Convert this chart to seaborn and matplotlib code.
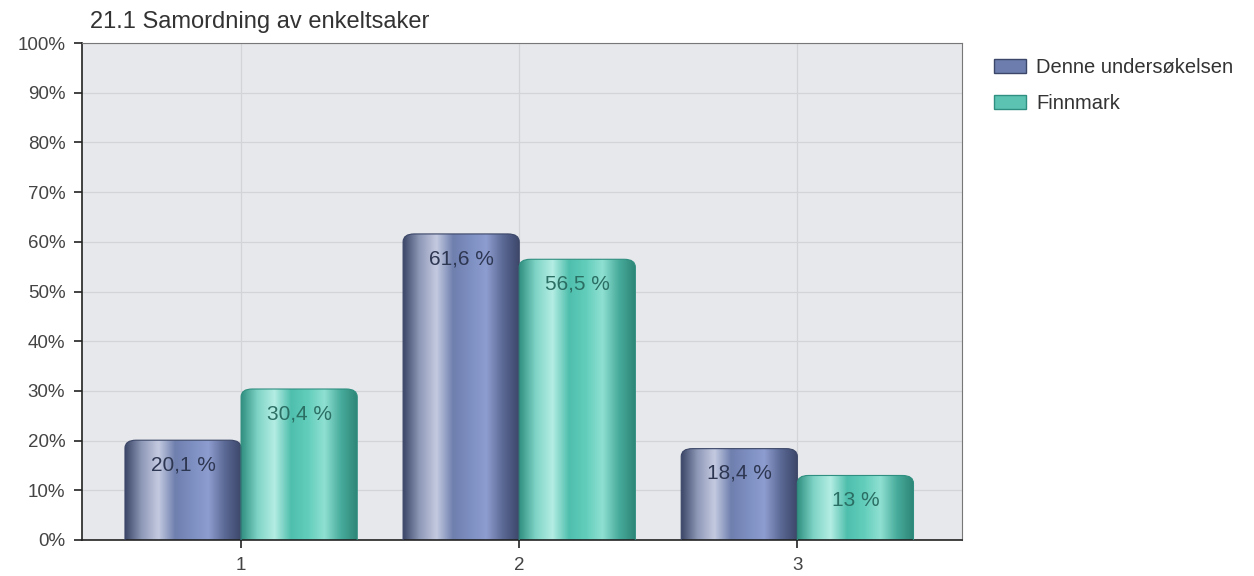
import numpy as np
import pandas as pd
import seaborn as sns
import matplotlib.pyplot as plt
from matplotlib.patches import FancyBboxPatch, Patch
from matplotlib.colors import LinearSegmentedColormap

# data
categories = ["1", "2", "3"]
series_names = ["Denne undersøkelsen", "Finnmark"]
denne = [20.1, 61.6, 18.4]
finnmark = [30.4, 56.5, 13.0]
value_labels = {
    "Denne undersøkelsen": ["20,1 %", "61,6 %", "18,4 %"],
    "Finnmark": ["30,4 %", "56,5 %", "13 %"],
}

df = pd.DataFrame({
    "kategori": categories * 2,
    "serie": [series_names[0]] * 3 + [series_names[1]] * 3,
    "verdi": denne + finnmark,
})

base_colors = {"Denne undersøkelsen": "#6d7eae", "Finnmark": "#5cc3b2"}
grad_colors = {
    "Denne undersøkelsen": ["#3b4668", "#8f99b8", "#c4cbe0", "#6f7fae", "#7d8ec0", "#8e9dcf", "#5a6894", "#3b4668"],
    "Finnmark": ["#2f8f80", "#7fd4c6", "#b4ede3", "#4fbfad", "#62cdbb", "#8fe0d2", "#47ab9b", "#2d8576"],
}
text_colors = {"Denne undersøkelsen": "#2e3752", "Finnmark": "#2b6e63"}

sns.set_style("white")
plt.rcParams["font.family"] = ["Liberation Sans", "DejaVu Sans"]

fig = plt.figure(figsize=(12.54, 5.76), dpi=100)
ax = fig.add_axes([82 / 1254, 36 / 576, 880 / 1254, 497 / 576])

sns.barplot(data=df, x="kategori", y="verdi", hue="serie", hue_order=series_names,
            palette=base_colors, width=0.835, gap=0, ax=ax, legend=False,
            edgecolor="none", saturation=1)

ax.set_xlim(-0.572, 2.592)
ax.set_ylim(0, 100)
ax.set_facecolor("#e6e8eb")

# gradient bars with rounded tops, built from the seaborn patches
for cont, name in zip(ax.containers, series_names):
    cmap = LinearSegmentedColormap.from_list(name, grad_colors[name])
    for rect, lab in zip(cont.patches, value_labels[name]):
        x0, y0 = rect.get_x(), rect.get_y()
        w, h = rect.get_width(), rect.get_height()
        rect.set_visible(False)
        r = 0.04
        clip = FancyBboxPatch((x0 + r, y0 - 5), w - 2 * r, h + 5 - 1.6,
                              boxstyle="round,pad=%f,rounding_size=%f" % (r, r),
                              mutation_aspect=100 / 3.16 / 0.8,
                              transform=ax.transData, facecolor="none",
                              edgecolor=grad_colors[name][0], lw=0.8, zorder=3)
        ax.add_patch(clip)
        grad = np.linspace(0, 1, 256).reshape(1, -1)
        im = ax.imshow(grad, cmap=cmap, aspect="auto",
                       extent=(x0, x0 + w, 0, y0 + h), zorder=2)
        im.set_clip_path(clip)
        ax.text(x0 + w / 2, y0 + h - 5, lab, ha="center", va="center",
                fontsize=15, color=text_colors[name], zorder=4)

ax.set_xlim(-0.572, 2.592)
ax.set_ylim(0, 100)

ax.set_yticks(range(0, 101, 10))
ax.set_yticklabels([f"{v}%" for v in range(0, 101, 10)])
ax.grid(True, color="#d2d4d8", linewidth=0.9)
ax.set_axisbelow(True)
ax.tick_params(axis="both", labelsize=13.5, labelcolor="#444444", length=6,
               width=1.2, color="#222222", direction="out", left=True, bottom=True)
ax.tick_params(axis="y", pad=6)
ax.tick_params(axis="x", pad=6)
ax.set_xlabel("")
ax.set_ylabel("")
for s in ["left", "bottom"]:
    ax.spines[s].set_color("#222222")
    ax.spines[s].set_linewidth(1.2)
for s in ["top", "right"]:
    ax.spines[s].set_color("#777777")
    ax.spines[s].set_linewidth(0.8)

fig.text(90 / 1254, 1 - 22 / 576, "21.1 Samordning av enkeltsaker", fontsize=17,
         color="#333333", va="center", ha="left")

handles = [Patch(facecolor=base_colors[n], edgecolor=grad_colors[n][0]) for n in series_names]
fig.legend(handles, series_names, loc="upper left", bbox_to_anchor=(976 / 1254, 1 - 40 / 576),
           frameon=False, fontsize=14.5, handlelength=1.6, handleheight=0.7,
           handletextpad=0.5, labelspacing=0.85, labelcolor="#333333")

fig.savefig("out.png", dpi=100)
